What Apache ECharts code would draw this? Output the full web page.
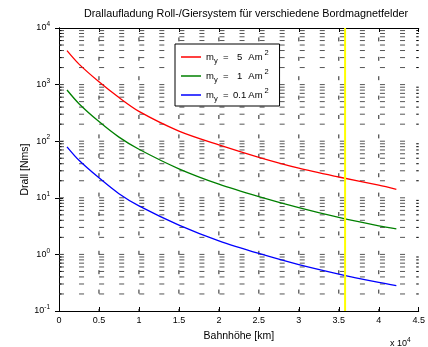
<!DOCTYPE html>
<html>
<head>
<meta charset="utf-8">
<script src="https://cdn.jsdelivr.net/npm/echarts@6/dist/echarts.min.js"></script>
<style>
  html, body { margin: 0; padding: 0; background: #fff; }
  #chart { width: 428px; height: 347px; }
</style>
</head>
<body>
<div id="chart"></div>
<script>
// Orbit altitude in km
var altitudeKm = [1000, 2500, 5000, 7500, 10000, 15000, 20000, 25000, 30000, 35000, 40000, 42200];
// Accumulated angular momentum [Nms] for residual dipoles of 5, 1 and 0.1 Am^2
var drall5  = [3980, 2300, 1120, 590, 336, 151, 86, 52, 33.4, 23.3, 16.7, 14.1];
var drall1  = [802, 460, 222, 118, 72, 32.5, 17.4, 10.5, 6.7, 4.5, 3.2, 2.83];
var drall01 = [79.6, 46, 22.5, 11.8, 7.2, 3.3, 1.74, 1.04, 0.66, 0.45, 0.32, 0.28];
// Geostationary altitude marker
var geoAltitudeKm = 35786;

var xTickLabels = ['0', '0.5', '1', '1.5', '2', '2.5', '3', '3.5', '4', '4.5'];
var yTickExponents = [-1, 0, 1, 2, 3, 4];
var dipoleLabels = ['5', '1', '0.1'];
var seriesNames = ['m_y = 5', 'm_y = 1', 'm_y = 0.1'];

var X_MIN = 0, X_MAX = 45000, X_STEP = 5000;
var Y_MIN = 0.1, Y_MAX = 10000;

function pairs(xs, ys) {
  return xs.map(function (x, i) { return [x, ys[i]]; });
}

// grid data: horizontal lines at every 1..9 x 10^k, vertical lines at major x ticks
var gridData = [];
for (var e = -1; e < 4; e++) {
  for (var m = 1; m <= 9; m++) {
    var v = m * Math.pow(10, e);
    if (v <= Y_MIN * 1.0001) continue;
    gridData.push([0, v, m === 1 ? 1 : 0, 0]);
  }
}
for (var xv = X_STEP; xv < X_MAX; xv += X_STEP) {
  gridData.push([xv, 1, 0, 1]);
}

var font = 'Liberation Sans, Arial, Helvetica, sans-serif';
var supRich = {
  b: { fontSize: 9, fontFamily: font, color: '#000', lineHeight: 14, verticalAlign: 'middle' },
  s: { fontSize: 6.5, fontFamily: font, color: '#000', lineHeight: 7, verticalAlign: 'top' }
};

function curve(name, values, color) {
  return {
    type: 'line',
    name: name,
    data: pairs(altitudeKm, values),
    smooth: 0.3,
    showSymbol: false,
    symbol: 'none',
    lineStyle: { color: color, width: 1.3 },
    itemStyle: { color: color },
    z: 3
  };
}

var chart = echarts.init(document.getElementById('chart'), null, { renderer: 'canvas' });

chart.setOption({
  backgroundColor: '#fff',
  animation: false,
  title: {
    text: 'Drallaufladung Roll-/Giersystem für verschiedene Bordmagnetfelder',
    left: 241,
    top: 4,
    textAlign: 'center',
    textStyle: { fontSize: 10.8, fontWeight: 'normal', color: '#000', fontFamily: font }
  },
  legend: {
    orient: 'vertical',
    left: 175,
    top: 44,
    data: seriesNames,
    icon: 'rect',
    itemWidth: 20,
    itemHeight: 1.5,
    itemGap: 3,
    padding: [5, 11, 3, 6],
    backgroundColor: '#fff',
    borderColor: '#000',
    borderWidth: 1,
    selectedMode: false,
    formatter: function (name) {
      var val = dipoleLabels[seriesNames.indexOf(name)];
      return '{t|m}{sub|y}{eq|=}{num|' + val + '}{t| Am}{sup|2}';
    },
    textStyle: {
      fontFamily: font,
      fontSize: 9.5,
      color: '#000',
      rich: {
        t: { fontSize: 9.5, fontFamily: font, color: '#000', lineHeight: 16, verticalAlign: 'middle' },
        eq: { fontSize: 9.5, fontFamily: font, color: '#000', lineHeight: 16, verticalAlign: 'middle', width: 16, align: 'center' },
        num: { fontSize: 9.5, fontFamily: font, color: '#000', lineHeight: 16, verticalAlign: 'middle', width: 12, align: 'right' },
        sub: { fontSize: 7.5, fontFamily: font, color: '#000', lineHeight: 7, verticalAlign: 'bottom' },
        sup: { fontSize: 7.5, fontFamily: font, color: '#000', lineHeight: 7, verticalAlign: 'top', width: 6, align: 'right' }
      }
    }
  },
  grid: { left: 59, right: 5, top: 28, bottom: 32, containLabel: false },
  xAxis: [{
    type: 'value',
    min: X_MIN, max: X_MAX, interval: X_STEP,
    position: 'bottom',
    name: 'Bahnhöhe [km]',
    nameLocation: 'middle',
    nameGap: 20,
    nameMoveOverlap: false,
    nameTextStyle: { fontSize: 10.5, color: '#000', fontFamily: font },
    axisLine: { show: true, lineStyle: { color: '#000', width: 1 } },
    axisTick: { show: true, inside: true, length: 4, lineStyle: { color: '#000' } },
    axisLabel: {
      fontSize: 9, color: '#000', fontFamily: font, margin: 5.5,
      formatter: function (v) { return xTickLabels[Math.round(v / X_STEP)]; }
    },
    splitLine: { show: false }
  }, {
    type: 'value',
    min: X_MIN, max: X_MAX, interval: X_STEP,
    position: 'top',
    axisLine: { show: true, lineStyle: { color: '#000', width: 1 } },
    axisTick: { show: true, inside: true, length: 4, lineStyle: { color: '#000' } },
    axisLabel: { show: false },
    splitLine: { show: false }
  }],
  yAxis: [{
    type: 'log',
    logBase: 10,
    min: Y_MIN, max: Y_MAX,
    position: 'left',
    name: 'Drall [Nms]',
    nameLocation: 'middle',
    nameGap: 28,
    nameMoveOverlap: false,
    nameTextStyle: { fontSize: 10.5, color: '#000', fontFamily: font },
    axisLine: { show: true, lineStyle: { color: '#000', width: 1 } },
    axisTick: { show: true, inside: true, length: 4, lineStyle: { color: '#000' } },
    axisLabel: {
      margin: 9,
      formatter: function (v) {
        var ex = Math.round(Math.log10(v));
        if (yTickExponents.indexOf(ex) < 0) return '';
        return '{b|10}{s|' + ex + '}';
      },
      rich: supRich
    },
    splitLine: { show: false }
  }, {
    type: 'log',
    logBase: 10,
    min: Y_MIN, max: Y_MAX,
    position: 'right',
    axisLine: { show: true, lineStyle: { color: '#000', width: 1 } },
    axisTick: { show: true, inside: true, length: 4, lineStyle: { color: '#000' } },
    axisLabel: { show: false },
    splitLine: { show: false }
  }],
  graphic: [{
    type: 'text',
    left: 390,
    top: 337,
    silent: true,
    style: {
      text: '{b|x 10}{s|4}',
      rich: supRich
    }
  }],
  series: [{
    // dotted grid and minor log ticks
    type: 'custom',
    name: 'grid',
    silent: true,
    z: 1,
    data: gridData,
    encode: { x: 0, y: 1 },
    renderItem: function (params, api) {
      var vertical = api.value(3) === 1;
      var children = [];
      if (vertical) {
        var top = api.coord([api.value(0), Y_MAX]);
        var bot = api.coord([api.value(0), Y_MIN]);
        children.push({
          type: 'line',
          shape: { x1: top[0], y1: top[1], x2: bot[0], y2: bot[1] },
          style: { stroke: '#222', lineWidth: 1, lineDash: [4, 15.4], lineDashOffset: 10 }
        });
      } else {
        var v = api.value(1);
        var l = api.coord([X_MIN, v]);
        var r = api.coord([X_MAX, v]);
        children.push({
          type: 'line',
          shape: { x1: l[0], y1: l[1], x2: r[0], y2: r[1] },
          style: { stroke: '#555', lineWidth: 1, lineDash: [5, 15.06], lineDashOffset: 0 }
        });
        if (api.value(2) !== 1) {
          children.push({
            type: 'line',
            shape: { x1: l[0], y1: l[1], x2: l[0] + 2.5, y2: l[1] },
            style: { stroke: '#000', lineWidth: 1 }
          });
          children.push({
            type: 'line',
            shape: { x1: r[0] - 2.5, y1: r[1], x2: r[0], y2: r[1] },
            style: { stroke: '#000', lineWidth: 1 }
          });
        }
      }
      return { type: 'group', children: children };
    }
  },
    curve(seriesNames[0], drall5, '#ff0000'),
    curve(seriesNames[1], drall1, '#008000'),
    curve(seriesNames[2], drall01, '#0000ff'),
  {
    type: 'line',
    name: 'GEO',
    data: [[geoAltitudeKm, Y_MIN], [geoAltitudeKm, Y_MAX]],
    showSymbol: false, symbol: 'none',
    lineStyle: { color: '#ffff00', width: 2 },
    z: 4
  }]
});
</script>
</body>
</html>
